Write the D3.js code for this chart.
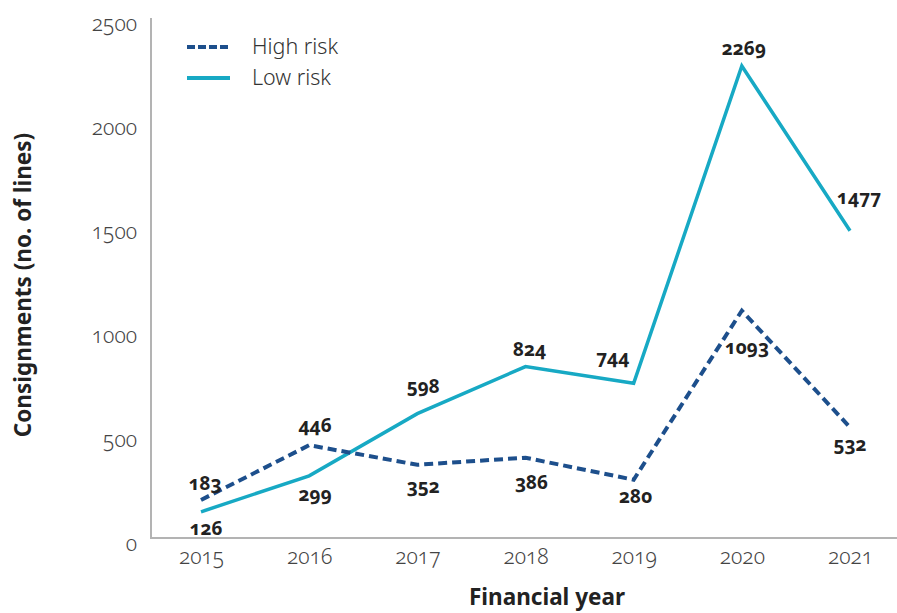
<!DOCTYPE html>
<html><head><meta charset="utf-8">
<script src="https://cdn.jsdelivr.net/npm/d3@7"></script>
<style>
body{margin:0;background:#fff;}
svg text{font-family:"Noto Sans",Lato,sans-serif;}
svg text.num{font-feature-settings:"onum" 1;font-variant-numeric:oldstyle-nums;}
</style></head>
<body><svg id="c" width="897" height="613"></svg>
<script>
const years = ["2015","2016","2017","2018","2019","2020","2021"];
const highRisk = [183,446,352,386,280,1093,532];
const lowRisk = [126,299,598,824,744,2269,1477];
const yTicks = [0,500,1000,1500,2000,2500];
const seriesNames = ["High risk","Low risk"];

const svg = d3.select("#c");
const x = d3.scalePoint().domain(years).range([201,850]);
const y = d3.scaleLinear().domain([0,2500]).range([538,18]);

// axes
svg.append("line").attr("x1",151).attr("x2",151).attr("y1",y(2500)).attr("y2",y(0)+0.5)
  .attr("stroke","#b3b3b3").attr("stroke-width",2);
svg.append("line").attr("x1",150).attr("x2",897).attr("y1",y(0)).attr("y2",y(0))
  .attr("stroke","#b3b3b3").attr("stroke-width",2);

const yAxis = d3.axisLeft(y).tickValues(yTicks).tickFormat(d3.format("d")).tickSize(0).tickPadding(0);
const gy = svg.append("g").attr("transform","translate(137,0)").call(yAxis);
gy.select(".domain").remove();
gy.selectAll("text").attr("class","num").attr("font-size",21).attr("font-weight",300).attr("fill","#444").attr("dy","0.6em");

const xAxis = d3.axisBottom(x).tickSize(0).tickPadding(0);
const gx = svg.append("g").attr("transform",`translate(0,${y(0)+10})`).call(xAxis);
gx.select(".domain").remove();
gx.selectAll("text").attr("class","num").attr("font-size",21).attr("font-weight",300).attr("fill","#444").attr("dy","0.75em");

// titles
svg.append("text").attr("transform","translate(31,285) rotate(-90)").attr("text-anchor","middle")
  .attr("font-size",22.5).attr("font-weight",700).attr("fill","#222").text("Consignments (no. of lines)");
svg.append("text").attr("x",547).attr("y",605).attr("text-anchor","middle")
  .attr("font-size",22.5).attr("font-weight",700).attr("fill","#222").text("Financial year");

const line = d3.line().x((d,i)=>x(years[i])).y(d=>y(d));
const lowColor = "#17a9c4", highColor = "#1d4f8c";

svg.append("path").datum(lowRisk).attr("d",line).attr("fill","none")
  .attr("stroke",lowColor).attr("stroke-width",3.5).attr("stroke-linejoin","miter");
svg.append("path").datum(highRisk).attr("d",line).attr("fill","none")
  .attr("stroke",highColor).attr("stroke-width",4).attr("stroke-dasharray","9,5");

// labels (offsets are layout, not data)
const highOff = [[4,-17],[6,-20],[6,22],[6,25],[2,17],[5,37],[0,17]];
const lowOff  = [[5,17],[6,19],[6,-27],[4,-17],[-21,-26],[2,-18],[9,-33]];
function labels(vals, off){
  svg.append("g").selectAll("text").data(vals).join("text")
    .attr("class","num")
    .attr("x",(d,i)=>x(years[i])+off[i][0])
    .attr("y",(d,i)=>y(d)+off[i][1])
    .attr("dy","0.35em")
    .attr("text-anchor","middle").attr("font-size",19).attr("font-weight",700).attr("fill","#222")
    .text(d=>d);
}
labels(highRisk, highOff);
labels(lowRisk, lowOff);

// legend
const lg = svg.append("g");
lg.append("line").attr("x1",187).attr("x2",230).attr("y1",47).attr("y2",47)
  .attr("stroke",highColor).attr("stroke-width",4).attr("stroke-dasharray","8,3");
lg.append("line").attr("x1",187).attr("x2",230).attr("y1",78).attr("y2",78)
  .attr("stroke",lowColor).attr("stroke-width",4);
lg.append("text").attr("x",252).attr("y",54).attr("font-size",21.5).attr("font-weight",300).attr("fill","#333").text(seriesNames[0]);
lg.append("text").attr("x",252).attr("y",85).attr("font-size",21.5).attr("font-weight",300).attr("fill","#333").text(seriesNames[1]);
</script></body></html>
